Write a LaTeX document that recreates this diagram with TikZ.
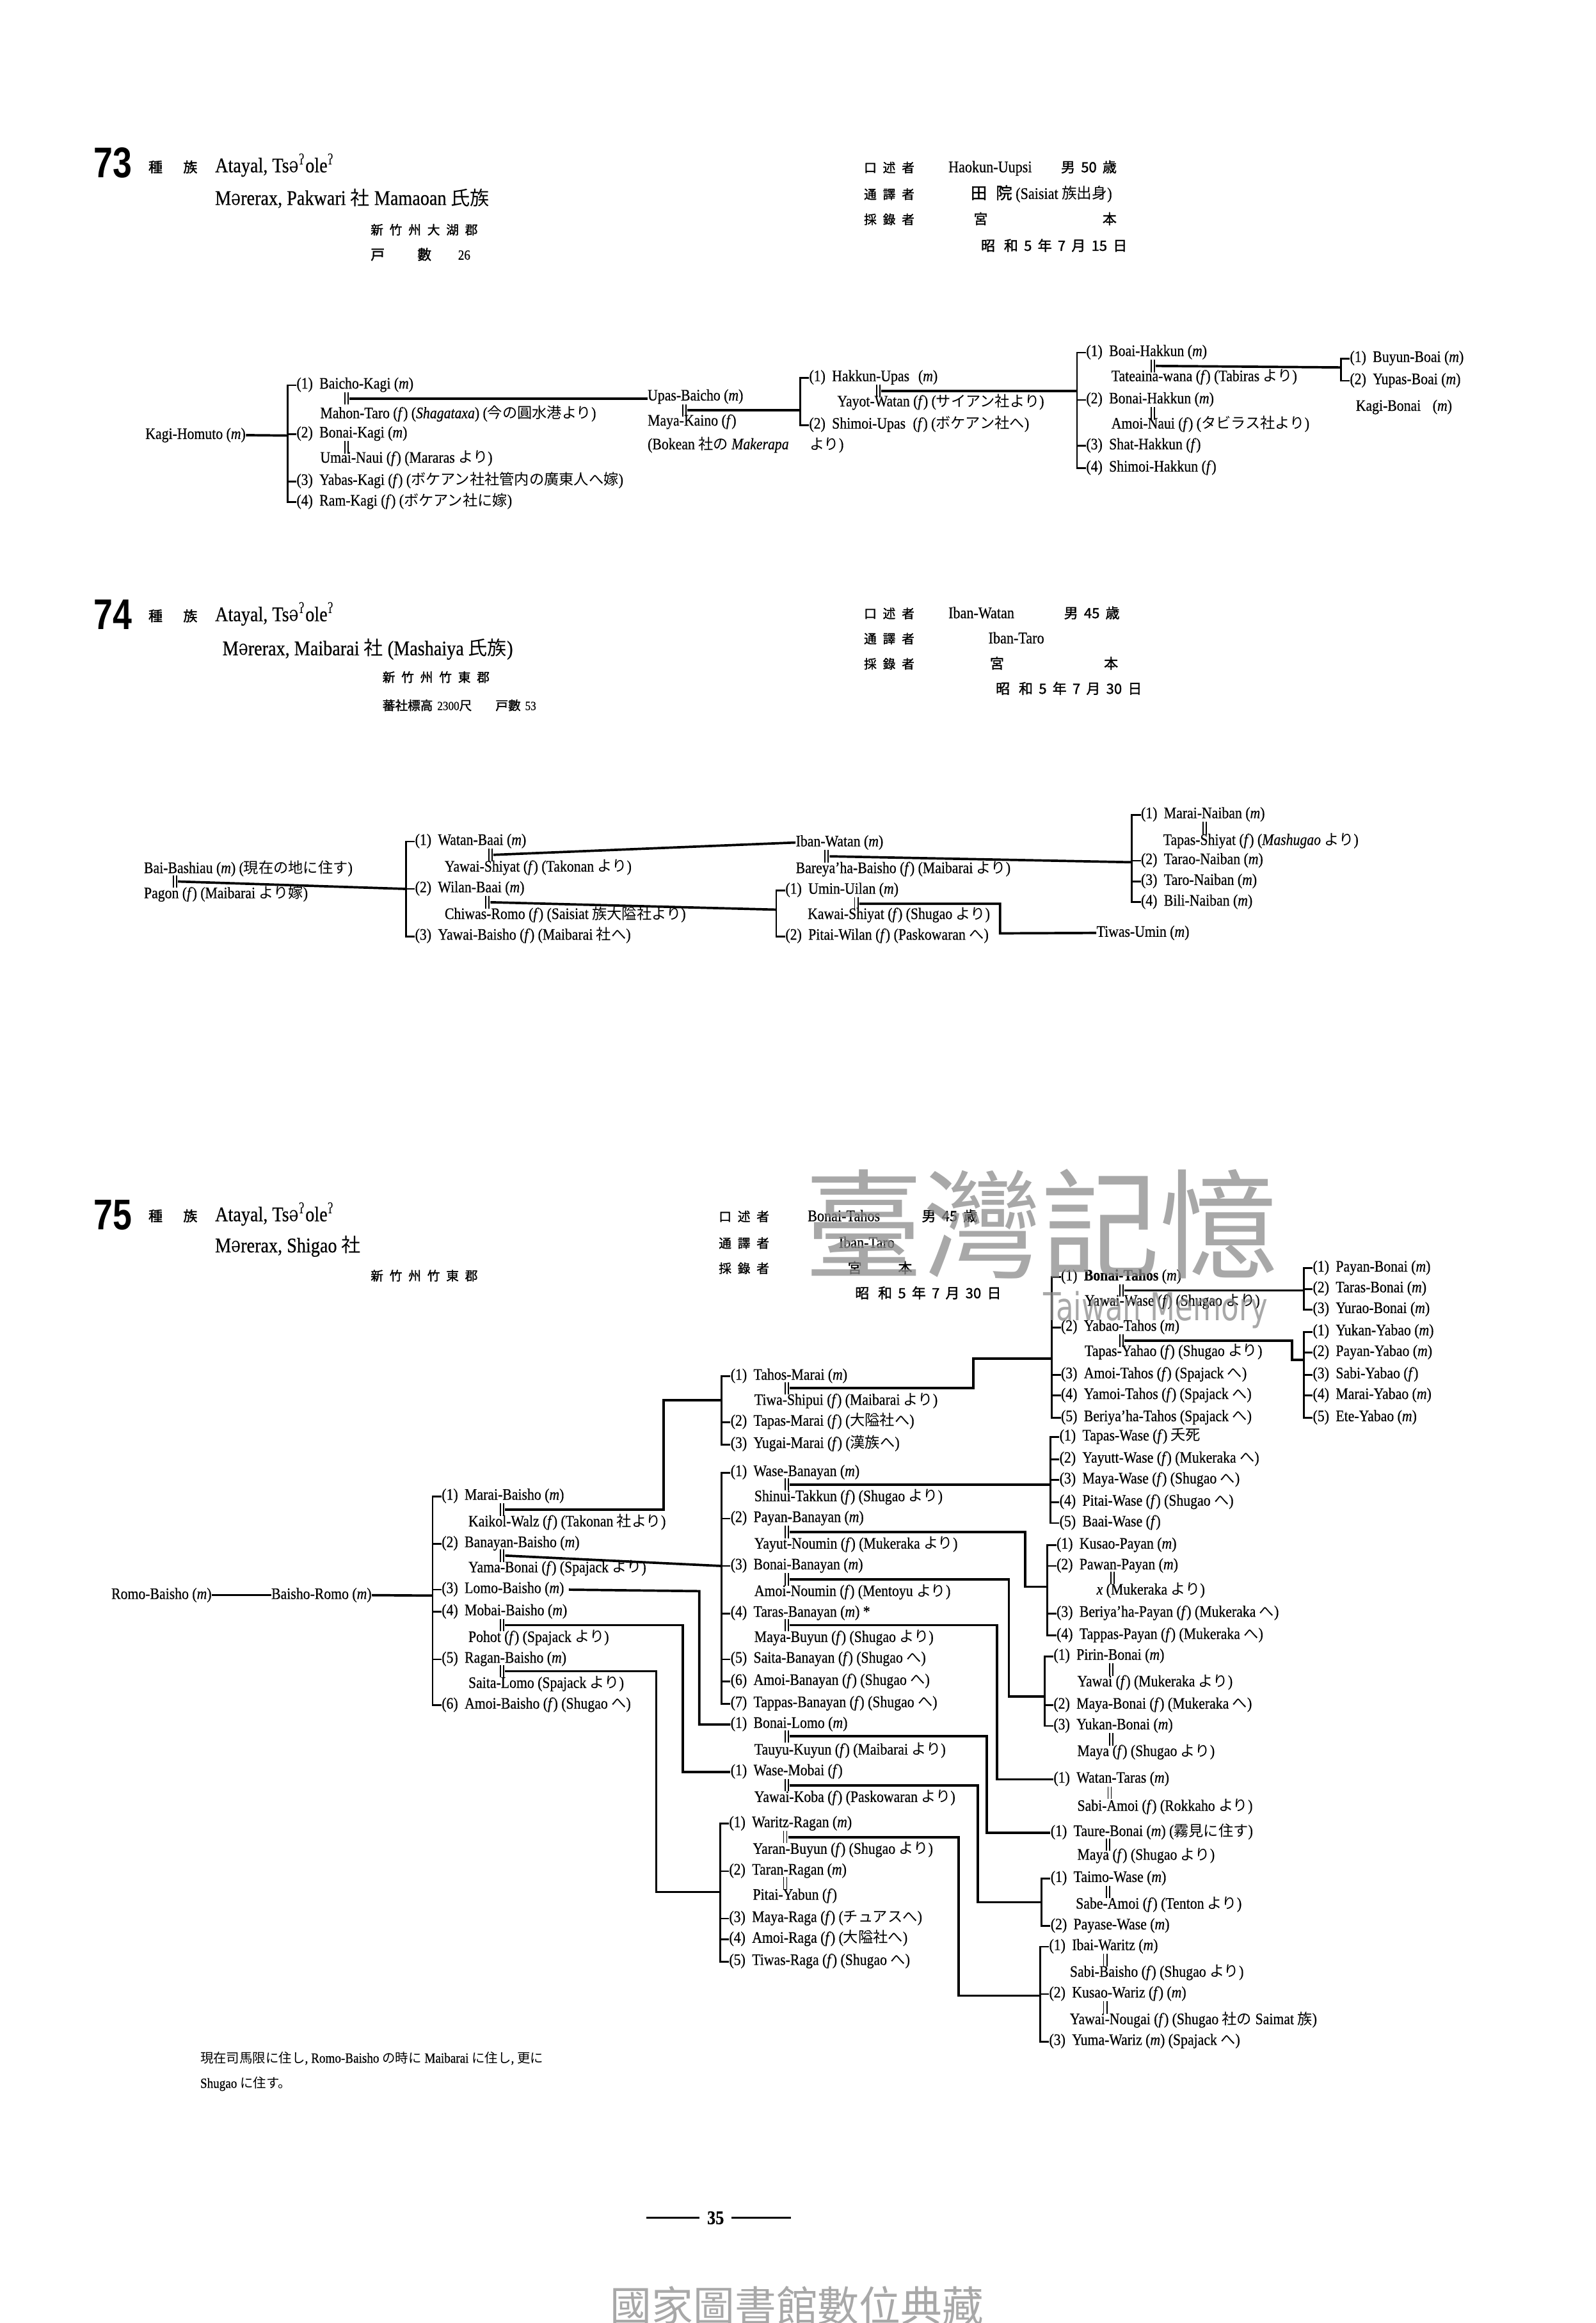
\documentclass[tikz,border=0pt]{standalone}
\usepackage{fontspec}
\setmainfont{Liberation Serif}[FakeStretch=0.87,FakeBold=0.6]
\newfontfamily\jpf{Noto Sans CJK JP}[Scale=0.93]
\newfontfamily\jpb{Noto Sans CJK JP}[FakeBold=1.5]
\newfontfamily\jpbw{Noto Sans CJK JP}[FakeBold=1.5,LetterSpace=50]
\newfontfamily\ipaf{DejaVu Serif}[FakeStretch=0.78]
\newfontfamily\numf{Liberation Sans}[FakeStretch=0.8]
\newfontfamily\wmf{Noto Sans CJK TC}
\newfontfamily\wmlat{DejaVu Sans}[FakeStretch=0.75]
\newcommand\jp[1]{{\jpf #1}}
\newcommand\ipa[1]{{\ipaf #1}}
\newcommand\gs{\textsuperscript{\ipa{ʔ}}}
\newcommand\schwa{\ipa{ə}}
\newcommand\no[1]{(#1)\hspace{4.5pt}}
\newcommand\mS{(\textit{m})}
\newcommand\fS{(\textit{f\/})}
\newcommand\pers[4]{\node[nm] (#1) at (#2,#3) {#4};}
\newcommand\mar[3]{\node[dbl] (#1) at (#2,#3) {};
  \draw[line width=0.8pt] ([xshift=-1.1pt]#1.north) -- ([xshift=-1.1pt]#1.south);
  \draw[line width=0.8pt] ([xshift=1.1pt]#1.north) -- ([xshift=1.1pt]#1.south);}
\newcommand\brk[3]{%
  \draw[brl] ([xshift=-6pt]#1.mid west) -- ([xshift=-6pt]#2.mid west);
  \foreach \cn in {#3}{\draw[brl] (\cn.mid west) -- ++(-6.6,0);}}
\tikzset{
  nm/.style={anchor=mid west, inner sep=0pt, font=\fontsize{10.8}{12}\selectfont},
  dbl/.style={inner sep=0pt, minimum width=3.6pt, minimum height=8pt},
  conn/.style={line width=1.6pt},
  brl/.style={line width=1.2pt},
  hdbig/.style={anchor=west, inner sep=0pt, font=\numf\bfseries\fontsize{29}{30}\selectfont},
  hdcj/.style={anchor=mid west, inner sep=0pt, font=\jpb\fontsize{9.5}{10}\selectfont},
  hdsp/.style={anchor=mid west, inner sep=0pt, font=\jpbw\fontsize{8.5}{10}\selectfont},
  hdla/.style={anchor=mid west, inner sep=0pt, font=\fontsize{14}{16}\selectfont},
  info/.style={anchor=mid west, inner sep=0pt, font=\fontsize{11}{12}\selectfont},
  foot/.style={anchor=mid west, inner sep=0pt, font=\fontsize{9.5}{11}\selectfont},
  wmk/.style={text=black!45, opacity=0.75, inner sep=0pt}
}
\begin{document}
\begin{tikzpicture}[x=1pt,y=-1pt]
\fill[white] (0,0) rectangle (1077,1568);
\useasboundingbox (0,0) rectangle (1077,1568);

% ================= 73 header
\node[hdbig] (h73n) at (63,110) {73};
\node[hdcj] (h73z) at (100,114) {種\hspace{14pt}族};
\node[hdla] (h73a) at (145,114) {Atayal, Ts\schwa\gs ole\gs};
\node[hdla] (h73b) at (145,136) {M\schwa rerax, Pakwari \jp{社} Mamaoan \jp{氏族}};
\node[hdsp] (h73c) at (250,156) {新竹州大湖郡};
\node[hdcj] (h73d) at (250,173) {戸\hspace{22pt}數\hspace{18pt}{\rmfamily 26}};
\node[hdsp] (h73e) at (583,114) {口述者};
\node[info] (h73f) at (640,114) {Haokun-Uupsi};
\node[hdcj] (h73g) at (716,114) {男\hspace{4pt}50\hspace{4pt}歳};
\node[hdsp] (h73h) at (583,132) {通譯者};
\node[info] (h73i) at (655,132) {{\jpb 田\hspace{6pt}院} (Saisiat \jp{族出身})};
\node[hdsp] (h73j) at (583,149) {採錄者};
\node[hdcj] (h73k) at (657,149) {宮};
\node[hdcj] (h73l) at (744,149) {本};
\node[hdcj] (h73m) at (662,167) {昭\hspace{6pt}和\hspace{4pt}5\hspace{4pt}年\hspace{4pt}7\hspace{4pt}月\hspace{4pt}15\hspace{4pt}日};

% ================= 73 tree
\pers{p73a}{98}{294}{Kagi-Homuto \mS}
\pers{c73a1}{200}{260}{\no{1}Baicho-Kagi \mS}
\mar{d73a1}{234}{269}
\pers{s73a1}{216}{280}{Mahon-Taro \fS{} (\textit{Shagataxa}) (\jp{今の圓水港より})}
\pers{c73a2}{200}{293}{\no{2}Bonai-Kagi \mS}
\mar{d73a2}{234}{302}
\pers{s73a2}{216}{310}{Umai-Naui \fS{} (Mararas \jp{より})}
\pers{c73a3}{200}{325}{\no{3}Yabas-Kagi \fS{} (\jp{ボケアン社社管内の廣東人へ嫁})}
\pers{c73a4}{200}{339}{\no{4}Ram-Kagi \fS{} (\jp{ボケアン社に嫁})}
\brk{c73a1}{c73a4}{c73a1,c73a2,c73a3,c73a4}
\coordinate (k73a) at (194,294);
\draw[conn] (p73a.east) -- (k73a);

\pers{p73b}{437}{268}{Upas-Baicho \mS}
\mar{d73b}{462}{277}
\pers{s73b}{437}{285}{Maya-Kaino \fS}
\pers{s73b2}{437}{301}{(Bokean \jp{社の} \textit{Makerapa}\hspace{14pt}\jp{より})}
\draw[conn] (d73a1.east) -- (p73b.west |- d73a1.east);

\pers{c73b1}{546}{255}{\no{1}Hakkun-Upas\hspace{6pt}\mS}
\mar{d73b1}{593}{264}
\pers{s73b1}{565}{272}{Yayot-Watan \fS{} (\jp{サイアン社より})}
\pers{c73b2}{546}{287}{\no{2}Shimoi-Upas\hspace{5pt}\fS{} (\jp{ボケアン社へ})}
\brk{c73b1}{c73b2}{c73b1,c73b2}
\coordinate (k73b) at (540,277);
\draw[conn] (d73b.east) -- (k73b);

\pers{c73c1}{733}{238}{\no{1}Boai-Hakkun \mS}
\mar{d73c1}{778}{247}
\pers{s73c1}{750}{255}{Tateaina-wana \fS{} (Tabiras \jp{より})}
\pers{c73c2}{733}{270}{\no{2}Bonai-Hakkun \mS}
\mar{d73c2}{778}{279}
\pers{s73c2}{750}{287}{Amoi-Naui \fS{} (\jp{タビラス社より})}
\pers{c73c3}{733}{301}{\no{3}Shat-Hakkun \fS}
\pers{c73c4}{733}{316}{\no{4}Shimoi-Hakkun \fS}
\brk{c73c1}{c73c4}{c73c1,c73c2,c73c3,c73c4}
\coordinate (k73c) at (727,264);
\draw[conn] (d73b1.east) -- (k73c);

\pers{c73d1}{911}{242}{\no{1}Buyun-Boai \mS}
\pers{c73d2}{911}{257}{\no{2}Yupas-Boai \mS}
\brk{c73d1}{c73d2}{c73d1,c73d2}
\coordinate (k73d) at (905,248);
\draw[conn] (d73c1.east) -- (k73d);
\pers{p73e}{915}{275}{Kagi-Bonai\hspace{8pt}\mS}

% ================= 74 header
\node[hdbig] (h74n) at (63,415) {74};
\node[hdcj] (h74z) at (100,417) {種\hspace{14pt}族};
\node[hdla] (h74a) at (145,417) {Atayal, Ts\schwa\gs ole\gs};
\node[hdla] (h74b) at (150,440) {M\schwa rerax, Maibarai \jp{社} (Mashaiya \jp{氏族})};
\node[hdsp] (h74c) at (258,458) {新竹州竹東郡};
\node[hdcj] (h74d) at (258,477) {\fontsize{8.5}{9}\selectfont 蕃社標高\hspace{3pt}{\rmfamily 2300}尺\hspace{16pt}戸數\hspace{3pt}{\rmfamily 53}};
\node[hdsp] (h74e) at (583,415) {口述者};
\node[info] (h74f) at (640,415) {Iban-Watan};
\node[hdcj] (h74g) at (718,415) {男\hspace{4pt}45\hspace{4pt}歳};
\node[hdsp] (h74h) at (583,432) {通譯者};
\node[info] (h74i) at (667,432) {Iban-Taro};
\node[hdsp] (h74j) at (583,449) {採錄者};
\node[hdcj] (h74k) at (668,449) {宮};
\node[hdcj] (h74l) at (745,449) {本};
\node[hdcj] (h74m) at (672,466) {昭\hspace{6pt}和\hspace{4pt}5\hspace{4pt}年\hspace{4pt}7\hspace{4pt}月\hspace{4pt}30\hspace{4pt}日};

% ================= 74 tree
\pers{p74a}{97}{587}{Bai-Bashiau \mS{} (\jp{現在の地に住す})}
\mar{d74a}{118}{595}
\pers{s74a}{97}{604}{Pagon \fS{} (Maibarai \jp{より嫁})}
\pers{c74a1}{280}{568}{\no{1}Watan-Baai \mS}
\mar{d74a1}{331}{577}
\pers{s74a1}{300}{586}{Yawai-Shiyat \fS{} (Takonan \jp{より})}
\pers{c74a2}{280}{600}{\no{2}Wilan-Baai \mS}
\mar{d74a2}{329}{609}
\pers{s74a2}{300}{618}{Chiwas-Romo \fS{} (Saisiat \jp{族大隘社より})}
\pers{c74a3}{280}{632}{\no{3}Yawai-Baisho \fS{} (Maibarai \jp{社へ})}
\brk{c74a1}{c74a3}{c74a1,c74a2,c74a3}
\coordinate (k74a) at (274,600);
\draw[conn] (d74a.east) -- (k74a);

\pers{p74b}{537}{569}{Iban-Watan \mS}
\mar{d74b}{558}{578}
\pers{s74b}{537}{587}{Bareya'ha-Baisho \fS{} (Maibarai \jp{より})}
\draw[conn] (d74a1.east) -- (p74b.west);

\pers{c74b1}{770}{550}{\no{1}Marai-Naiban \mS}
\mar{d74b1}{813}{559}
\pers{s74b1}{785}{568}{Tapas-Shiyat \fS{} (\textit{Mashugao} \jp{より})}
\pers{c74b2}{770}{581}{\no{2}Tarao-Naiban \mS}
\pers{c74b3}{770}{595}{\no{3}Taro-Naiban \mS}
\pers{c74b4}{770}{609}{\no{4}Bili-Naiban \mS}
\brk{c74b1}{c74b4}{c74b1,c74b2,c74b3,c74b4}
\coordinate (k74b) at (764,582);
\draw[conn] (d74b.east) -- (k74b);

\pers{c74c1}{530}{601}{\no{1}Umin-Uilan \mS}
\mar{d74c1}{578}{610}
\pers{s74c1}{545}{618}{Kawai-Shiyat \fS{} (Shugao \jp{より})}
\pers{c74c2}{530}{632}{\no{2}Pitai-Wilan \fS{} (Paskowaran \jp{へ})}
\brk{c74c1}{c74c2}{c74c1,c74c2}
\coordinate (k74c) at (524,614);
\draw[conn] (d74a2.east) -- (k74c);
\pers{p74d}{740}{630}{Tiwas-Umin \mS}
\draw[conn] (d74c1.east) -- (675,610) -- (675,630) -- (p74d.west);

% ================= 75 header
\node[hdbig] (h75n) at (63,820) {75};
\node[hdcj] (h75z) at (100,822) {種\hspace{14pt}族};
\node[hdla] (h75a) at (145,822) {Atayal, Ts\schwa\gs ole\gs};
\node[hdla] (h75b) at (145,843) {M\schwa rerax, Shigao \jp{社}};
\node[hdsp] (h75c) at (250,862) {新竹州竹東郡};
\node[hdsp] (h75e) at (485,822) {口述者};
\node[info] (h75f) at (545,822) {Bonai-Tahos};
\node[hdcj] (h75g) at (622,822) {男\hspace{4pt}45\hspace{4pt}歳};
\node[hdsp] (h75h) at (485,840) {通譯者};
\node[info] (h75i) at (566,840) {Iban-Taro};
\node[hdsp] (h75j) at (485,857) {採錄者};
\node[hdcj] (h75k) at (572,857) {宮};
\node[hdcj] (h75l) at (606,857) {本};
\node[hdcj] (h75m) at (577,874) {昭\hspace{6pt}和\hspace{4pt}5\hspace{4pt}年\hspace{4pt}7\hspace{4pt}月\hspace{4pt}30\hspace{4pt}日};

% ================= 75 tree
\pers{r75a}{75}{1077}{Romo-Baisho \mS}
\pers{r75b}{183}{1077}{Baisho-Romo \mS}
\draw[conn] (r75a.east) -- (r75b.west);

\pers{b1}{298}{1010}{\no{1}Marai-Baisho \mS}
\mar{db1}{339}{1019}
\pers{sb1}{316}{1028}{Kaikol-Walz \fS{} (Takonan \jp{社より})}
\pers{b2}{298}{1042}{\no{2}Banayan-Baisho \mS}
\mar{db2}{339}{1050}
\pers{sb2}{316}{1059}{Yama-Bonai \fS{} (Spajack \jp{より})}
\pers{b3}{298}{1073}{\no{3}Lomo-Baisho \mS}
\pers{b4}{298}{1088}{\no{4}Mobai-Baisho \mS}
\mar{db4}{339}{1097}
\pers{sb4}{316}{1106}{Pohot \fS{} (Spajack \jp{より})}
\pers{b5}{298}{1120}{\no{5}Ragan-Baisho \mS}
\mar{db5}{339}{1128}
\pers{sb5}{316}{1137}{Saita-Lomo (Spajack \jp{より})}
\pers{b6}{298}{1151}{\no{6}Amoi-Baisho \fS{} (Shugao \jp{へ})}
\brk{b1}{b6}{b1,b2,b3,b4,b5,b6}
\coordinate (k75a) at (292,1077);
\draw[conn] (r75b.east) -- (k75a);

% Marai-Baisho's children
\pers{t1}{493}{929}{\no{1}Tahos-Marai \mS}
\mar{dt1}{531}{937}
\pers{st1}{509}{946}{Tiwa-Shipui \fS{} (Maibarai \jp{より})}
\pers{t2}{493}{960}{\no{2}Tapas-Marai \fS{} (\jp{大隘社へ})}
\pers{t3}{493}{975}{\no{3}Yugai-Marai \fS{} (\jp{漢族へ})}
\brk{t1}{t3}{t1,t2,t3}
\coordinate (k75t) at (487,945);
\draw[conn] (db1.east) -- (448,1019) -- (448,945) -- (k75t);

% Banayan-Baisho's children
\pers{n1}{493}{994}{\no{1}Wase-Banayan \mS}
\mar{dn1}{531}{1002}
\pers{sn1}{509}{1011}{Shinui-Takkun \fS{} (Shugao \jp{より})}
\pers{n2}{493}{1025}{\no{2}Payan-Banayan \mS}
\mar{dn2}{531}{1034}
\pers{sn2}{509}{1043}{Yayut-Noumin \fS{} (Mukeraka \jp{より})}
\pers{n3}{493}{1057}{\no{3}Bonai-Banayan \mS}
\mar{dn3}{531}{1066}
\pers{sn3}{509}{1075}{Amoi-Noumin \fS{} (Mentoyu \jp{より})}
\pers{n4}{493}{1089}{\no{4}Taras-Banayan \mS{} *}
\mar{dn4}{531}{1097}
\pers{sn4}{509}{1106}{Maya-Buyun \fS{} (Shugao \jp{より})}
\pers{n5}{493}{1120}{\no{5}Saita-Banayan \fS{} (Shugao \jp{へ})}
\pers{n6}{493}{1135}{\no{6}Amoi-Banayan \fS{} (Shugao \jp{へ})}
\pers{n7}{493}{1150}{\no{7}Tappas-Banayan \fS{} (Shugao \jp{へ})}
\brk{n1}{n7}{n1,n2,n3,n4,n5,n6,n7}
\draw[conn] (db2.east) -- ([xshift=-6pt]n3.mid west);

% Lomo-Baisho
\pers{l1}{493}{1164}{\no{1}Bonai-Lomo \mS}
\mar{dl1}{531}{1172}
\pers{sl1}{509}{1182}{Tauyu-Kuyun \fS{} (Maibarai \jp{より})}
\draw[conn] ([xshift=3pt]b3.mid east) -- (472,1074) -- (472,1164) -- (l1.mid west);

% Mobai-Baisho
\pers{w1}{493}{1196}{\no{1}Wase-Mobai \fS}
\mar{dw1}{531}{1205}
\pers{sw1}{509}{1214}{Yawai-Koba \fS{} (Paskowaran \jp{より})}
\draw[conn] (db4.east) -- (461,1097) -- (461,1196) -- (w1.mid west);

% Ragan-Baisho's children
\pers{g1}{492}{1231}{\no{1}Waritz-Ragan \mS}
\mar{dg1}{530}{1240}
\pers{sg1}{508}{1249}{Yaran-Buyun \fS{} (Shugao \jp{より})}
\pers{g2}{492}{1263}{\no{2}Taran-Ragan \mS}
\mar{dg2}{530}{1271}
\pers{sg2}{508}{1280}{Pitai-Yabun \fS}
\pers{g3}{492}{1295}{\no{3}Maya-Raga \fS{} (\jp{チュアスへ})}
\pers{g4}{492}{1309}{\no{4}Amoi-Raga \fS{} (\jp{大隘社へ})}
\pers{g5}{492}{1324}{\no{5}Tiwas-Raga \fS{} (Shugao \jp{へ})}
\brk{g1}{g5}{g1,g2,g3,g4,g5}
\coordinate (k75g) at (486,1277);
\draw[conn] (db5.east) -- (443,1128) -- (443,1277) -- (k75g);

% Tahos-Marai's children
\pers{h1}{716}{862}{\no{1}\textbf{Bonai-Tahos} \mS}
\mar{dh1}{757}{871}
\pers{sh1}{732}{879}{Yawai-Wase \fS{} (Shugao \jp{より})}
\pers{h2}{716}{896}{\no{2}Yabao-Tahos \mS}
\mar{dh2}{757}{905}
\pers{sh2}{732}{913}{Tapas-Yahao \fS{} (Shugao \jp{より})}
\pers{h3}{716}{928}{\no{3}Amoi-Tahos \fS{} (Spajack \jp{へ})}
\pers{h4}{716}{942}{\no{4}Yamoi-Tahos \fS{} (Spajack \jp{へ})}
\pers{h5}{716}{957}{\no{5}Beriya'ha-Tahos (Spajack \jp{へ})}
\brk{h1}{h5}{h1,h2,h3,h4,h5}
\coordinate (k75h) at (710,917);
\draw[conn] (dt1.east) -- (657,937) -- (657,917) -- (k75h);

\pers{o1}{886}{856}{\no{1}Payan-Bonai \mS}
\pers{o2}{886}{870}{\no{2}Taras-Bonai \mS}
\pers{o3}{886}{884}{\no{3}Yurao-Bonai \mS}
\brk{o1}{o3}{o1,o2,o3}
\coordinate (k75o) at (880,871);
\draw[conn] (dh1.east) -- (k75o);

\pers{y1}{886}{899}{\no{1}Yukan-Yabao \mS}
\pers{y2}{886}{913}{\no{2}Payan-Yabao \mS}
\pers{y3}{886}{928}{\no{3}Sabi-Yabao \fS}
\pers{y4}{886}{942}{\no{4}Marai-Yabao \mS}
\pers{y5}{886}{957}{\no{5}Ete-Yabao \mS}
\brk{y1}{y5}{y1,y2,y3,y4,y5}
\coordinate (k75y) at (880,918);
\draw[conn] (dh2.east) -- (872,905) -- (872,918) -- (k75y);

% Wase-Banayan's children
\pers{e1}{715}{970}{\no{1}Tapas-Wase \fS{} \jp{夭死}}
\pers{e2}{715}{985}{\no{2}Yayutt-Wase \fS{} (Mukeraka \jp{へ})}
\pers{e3}{715}{999}{\no{3}Maya-Wase \fS{} (Shugao \jp{へ})}
\pers{e4}{715}{1014}{\no{4}Pitai-Wase \fS{} (Shugao \jp{へ})}
\pers{e5}{715}{1028}{\no{5}Baai-Wase \fS}
\brk{e1}{e5}{e1,e2,e3,e4,e5}
\coordinate (k75e) at (709,1002);
\draw[conn] (dn1.east) -- (k75e);

% Payan-Banayan's children
\pers{q1}{713}{1043}{\no{1}Kusao-Payan \mS}
\pers{q2}{713}{1057}{\no{2}Pawan-Payan \mS}
\mar{dq2}{751}{1065}
\pers{sq2}{740}{1074}{\textit{x} (Mukeraka \jp{より})}
\pers{q3}{713}{1089}{\no{3}Beriya'ha-Payan \fS{} (Mukeraka \jp{へ})}
\pers{q4}{713}{1104}{\no{4}Tappas-Payan \fS{} (Mukeraka \jp{へ})}
\brk{q1}{q4}{q1,q2,q3,q4}
\coordinate (k75q) at (707,1071);
\draw[conn] (dn2.east) -- (692,1034) -- (692,1071) -- (k75q);

% Bonai-Banayan's children
\pers{u1}{711}{1118}{\no{1}Pirin-Bonai \mS}
\mar{du1}{750}{1127}
\pers{su1}{727}{1136}{Yawai \fS{} (Mukeraka \jp{より})}
\pers{u2}{711}{1151}{\no{2}Maya-Bonai \fS{} (Mukeraka \jp{へ})}
\pers{u3}{711}{1165}{\no{3}Yukan-Bonai \mS}
\mar{du3}{750}{1174}
\pers{su3}{727}{1183}{Maya \fS{} (Shugao \jp{より})}
\brk{u1}{u3}{u1,u2,u3}
\coordinate (k75u) at (705,1145);
\draw[conn] (dn3.east) -- (681,1066) -- (681,1145) -- (k75u);

% Taras-Banayan's child
\pers{v1}{711}{1201}{\no{1}Watan-Taras \mS}
\mar{dv1}{749}{1210}
\pers{sv1}{727}{1220}{Sabi-Amoi \fS{} (Rokkaho \jp{より})}
\draw[conn] (dn4.east) -- (673,1097) -- (673,1201) -- (v1.mid west);

% Bonai-Lomo's child
\pers{x1}{709}{1237}{\no{1}Taure-Bonai \mS{} (\jp{霧見に住す})}
\mar{dx1}{748}{1245}
\pers{sx1}{727}{1253}{Maya \fS{} (Shugao \jp{より})}
\draw[conn] (dl1.east) -- (666,1172) -- (666,1237) -- (x1.mid west);

% Wase-Mobai's children
\pers{z1}{709}{1268}{\no{1}Taimo-Wase \mS}
\mar{dz1}{748}{1277}
\pers{sz1}{726}{1286}{Sabe-Amoi \fS{} (Tenton \jp{より})}
\pers{z2}{709}{1300}{\no{2}Payase-Wase \mS}
\brk{z1}{z2}{z1,z2}
\coordinate (k75z) at (703,1284);
\draw[conn] (dw1.east) -- (660,1205) -- (660,1284) -- (k75z);

% Waritz-Ragan's children
\pers{i1}{708}{1314}{\no{1}Ibai-Waritz \mS}
\mar{di1}{746}{1323}
\pers{si1}{722}{1332}{Sabi-Baisho \fS{} (Shugao \jp{より})}
\pers{i2}{708}{1346}{\no{2}Kusao-Wariz \fS{} \mS}
\mar{di2}{746}{1355}
\pers{si2}{722}{1364}{Yawai-Nougai \fS{} (Shugao \jp{社の} Saimat \jp{族})}
\pers{i3}{708}{1378}{\no{3}Yuma-Wariz \mS{} (Spajack \jp{へ})}
\brk{i1}{i3}{i1,i2,i3}
\coordinate (k75i) at (702,1347);
\draw[conn] (dg1.east) -- (647,1240) -- (647,1347) -- (k75i);

% footnote
\node[foot] (fn1) at (135,1390) {\jp{現在司馬限に住し}, Romo-Baisho \jp{の時に} Maibarai \jp{に住し}, \jp{更に}};
\node[foot] (fn2) at (135,1407) {Shugao \jp{に住す。}};

% page number
\node[inner sep=0pt, font=\bfseries\fontsize{13}{14}\selectfont] (pg) at (483,1497) {35};
\draw[line width=1.2pt] ([xshift=-5pt]pg.west) -- ++(-36,0);
\draw[line width=1.2pt] ([xshift=5pt]pg.east) -- ++(40,0);

% watermarks
\node[wmk, font=\wmf\fontsize{80}{80}\selectfont] (wm1) at (703,826) {臺灣記憶};
\node[wmk, font=\wmlat\fontsize{26}{26}\selectfont] (wm2) at (780,884) {Taiwan Memory};
\node[wmk, font=\wmf\fontsize{28}{28}\selectfont] (wm3) at (538,1556) {國家圖書館數位典藏};
\end{tikzpicture}
\end{document}
